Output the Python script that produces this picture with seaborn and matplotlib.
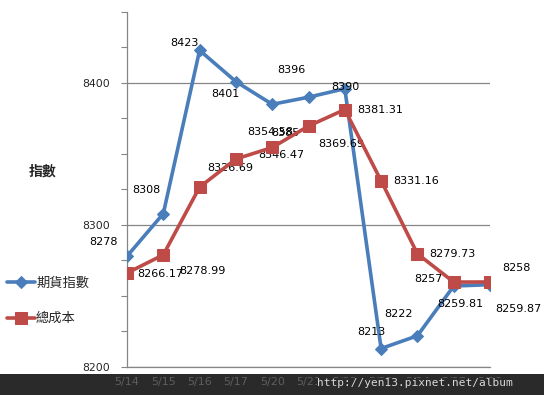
#!/usr/bin/env python3

import pandas as pd
import matplotlib
matplotlib.use("Agg")
import matplotlib.pyplot as plt
from matplotlib.patches import Rectangle
from matplotlib.ticker import MultipleLocator
import seaborn as sns

DATES = ["5/14", "5/15", "5/16", "5/17", "5/20", "5/21",
         "5/22", "5/23", "5/24", "5/27", "5/28"]
FUTURES = [8278, 8308, 8423, 8401, 8385, 8390, 8396, 8213, 8222, 8257, 8258]
COST = [8266.17, 8278.99, 8326.69, 8346.47, 8354.58, 8369.69,
        8381.31, 8331.16, 8279.73, 8259.81, 8259.87]
FUTURES_NAME = "期貨指數"
COST_NAME = "總成本"
Y_TITLE = "指數"
WATERMARK = "http://yen13.pixnet.net/album"

# label offsets in pixels (dx, dy), hand-placed like the original
FUT_OFFSETS = [(-24, 14), (-17, 24), (-15, 7), (-11, -12), (13, -29), (37, 10),
               (-53, 19), (-10, 17), (-19, 22), (-25, 7), (26, 17)]
COST_OFFSETS = [(33, -1), (39, -16), (31, 19), (45, 4), (-2, 15), (33, -18),
                (35, 0), (35, 0), (35, 0), (7, -22), (28, -27)]

BLUE = "#4a7ebb"
RED = "#be4b48"
GRID = "#868686"
CJK = ["Noto Sans CJK TC", "DejaVu Sans"]


def main():
    sns.set_style("white")
    plt.rcParams["font.family"] = ["DejaVu Sans", "Noto Sans CJK TC"]

    df = pd.DataFrame({"idx": range(len(DATES)), "futures": FUTURES, "cost": COST})

    fig = plt.figure(figsize=(5.44, 3.95), dpi=100)
    # dark strip along the bottom, behind the axes
    fig.patches.append(Rectangle((0, 0), 1, 21 / 395, transform=fig.transFigure,
                                 facecolor="#2a2a2a", edgecolor="none", zorder=-1))
    ax = fig.add_axes([127 / 544, 1 - 367 / 395, 363 / 544, 355 / 395])
    ax.patch.set_alpha(0)

    sns.lineplot(data=df, x="idx", y="futures", ax=ax, color=BLUE, lw=2.6,
                 marker="D", markersize=6.5, markeredgecolor=BLUE,
                 label=FUTURES_NAME, zorder=3)
    sns.lineplot(data=df, x="idx", y="cost", ax=ax, color=RED, lw=2.6,
                 marker="s", markersize=8, markeredgecolor=RED,
                 label=COST_NAME, zorder=4)

    for i, v in enumerate(FUTURES):
        ax.annotate(f"{v:g}", (i, v), xytext=FUT_OFFSETS[i], textcoords="offset pixels",
                    ha="center", va="center", fontsize=8, color="black")
    for i, v in enumerate(COST):
        ax.annotate(f"{v:.2f}", (i, v), xytext=COST_OFFSETS[i], textcoords="offset pixels",
                    ha="center", va="center", fontsize=8, color="black")

    ax.set_xlim(0, len(DATES) - 1)
    ax.set_ylim(8200, 8450)
    ax.yaxis.set_major_locator(MultipleLocator(100))
    ax.yaxis.set_minor_locator(MultipleLocator(25))
    ax.grid(axis="y", which="major", color=GRID, lw=0.9)
    ax.tick_params(axis="y", which="both", left=True, length=4, width=0.8,
                   color=GRID, direction="out", labelsize=7.8, pad=8)
    ax.set_xticks(range(len(DATES)), DATES)
    ax.tick_params(axis="x", length=0, labelsize=8, labelcolor="#5e5e5e", pad=7)
    ax.set_xlabel("")
    ax.set_ylabel("")
    for side in ["top", "right"]:
        ax.spines[side].set_visible(False)
    ax.spines["left"].set_color(GRID)
    ax.spines["bottom"].set_color(GRID)
    ax.spines["left"].set_linewidth(0.9)
    ax.spines["bottom"].set_linewidth(0.9)

    ax.legend(loc="center left", bbox_to_anchor=(7 / 544, 1 - 301 / 395),
              bbox_transform=fig.transFigure, frameon=False, borderpad=0,
              borderaxespad=0, handlelength=2.1, handletextpad=0.1,
              labelspacing=1.7, prop={"family": CJK, "size": 9.5})

    fig.text(43 / 544, 1 - 172 / 395, Y_TITLE, ha="center", va="center",
             family=CJK, fontsize=10, fontweight="bold")

    fig.text(317 / 544, 1 - 383 / 395, WATERMARK, ha="left", va="center",
             family="DejaVu Sans Mono", fontsize=8, color="#d8d8d8",
             bbox=dict(facecolor="#2a2a2a", edgecolor="none", pad=0.2), zorder=10)

    fig.savefig("out.png", dpi=100, facecolor="white")
    plt.close(fig)


if __name__ == "__main__":
    main()
